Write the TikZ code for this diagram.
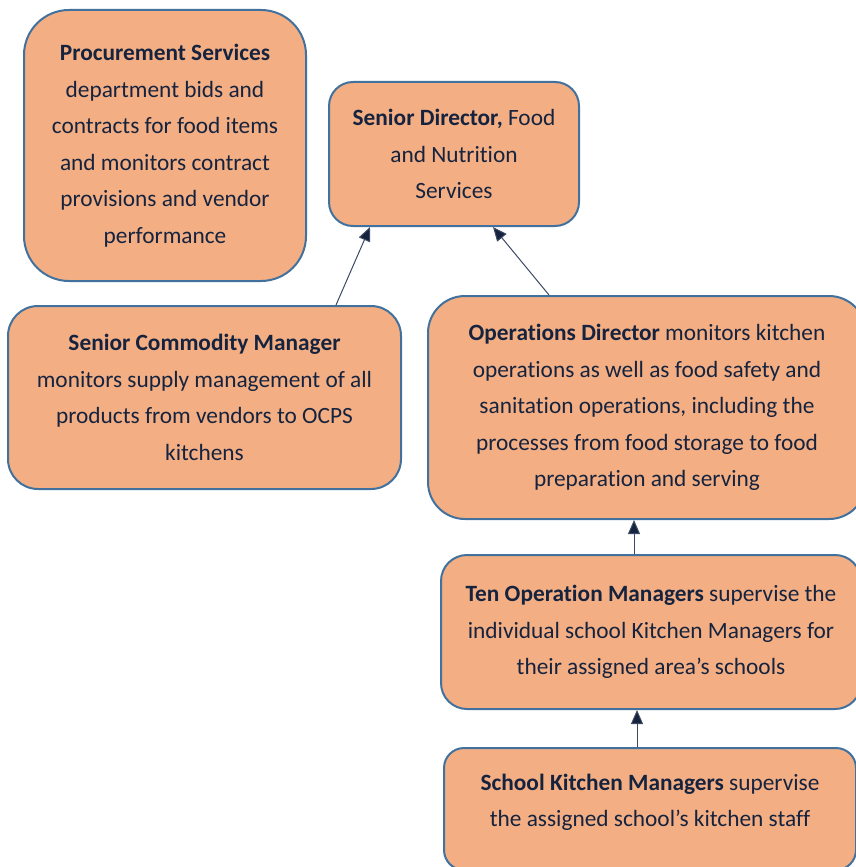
\documentclass[tikz,border=0pt]{standalone}
\usepackage{fontspec}
\setmainfont{Carlito}[Ligatures=NoCommon]
\usetikzlibrary{arrows.meta, calc}

\definecolor{boxfill}{HTML}{F3AF83}
\definecolor{boxline}{HTML}{41719C}
\definecolor{inkblue}{HTML}{16233F}
\definecolor{linkgray}{HTML}{3C4A63}

\begin{document}
\begin{tikzpicture}[x=0.75pt, y=-0.75pt,
  orgbox/.style={draw=boxline, line width=1.5pt, fill=boxfill,
    text=inkblue, align=center, inner sep=0pt,
    font=\fontsize{17.5pt}{27.4pt}\selectfont},
  link/.style={draw=linkgray, line width=0.75pt,
    -{Triangle[length=10.5pt, width=9pt, fill=inkblue]}}]
  \useasboundingbox (0,0) rectangle (856,867);

  \node[orgbox, minimum width=211.5pt, minimum height=203.25pt,
    rounded corners=33.75pt] (proc) at (165,145.5)
    {\textbf{Procurement Services}\\ department bids and\\
     contracts for food items\\ and monitors contract\\
     provisions and vendor\\ performance};
  \node[orgbox, minimum width=187.5pt, minimum height=108pt,
    rounded corners=18pt] (sendir) at (454,154)
    {\textbf{Senior Director,} Food\\ and Nutrition\\ Services};
  \node[orgbox, minimum width=294.75pt, minimum height=137.25pt,
    rounded corners=22.5pt] (comm) at (204.5,397.5)
    {\textbf{Senior Commodity Manager}\\ monitors supply management of all\\
     products from vendors to OCPS\\ kitchens};
  \node[orgbox, minimum width=328.5pt, minimum height=167.25pt,
    rounded corners=27.75pt] (ops) at (647,407.5)
    {\textbf{Operations Director} monitors kitchen\\
     operations as well as food safety and\\
     sanitation operations, including the\\
     processes from food storage to food\\
     preparation and serving};
  \node[orgbox, minimum width=315pt, minimum height=115.5pt,
    rounded corners=19.5pt] (tenops) at (651,632)
    {\textbf{Ten Operation Managers} supervise the\\
     individual school Kitchen Managers for\\
     their assigned area’s schools};
  \node[orgbox, minimum width=309pt, minimum height=91.5pt,
    rounded corners=15pt] (school) at (650,809)
    {\textbf{School Kitchen Managers} supervise\\
     the assigned school’s kitchen staff\\[-14.6pt]};

  \draw[link] ($(comm.north)+(131.5,0)$) -- ($(sendir.south)+(-84,0)$);
  \draw[link] ($(ops.north)+(-98,0)$) -- ($(sendir.south)+(39,0)$);
  \draw[link] ($(tenops.north)+(-17,0)$) coordinate (t1) -- (t1 |- ops.south);
  \draw[link] ($(school.north)+(-13,0)$) coordinate (s1) -- (s1 |- tenops.south);
\end{tikzpicture}
\end{document}
